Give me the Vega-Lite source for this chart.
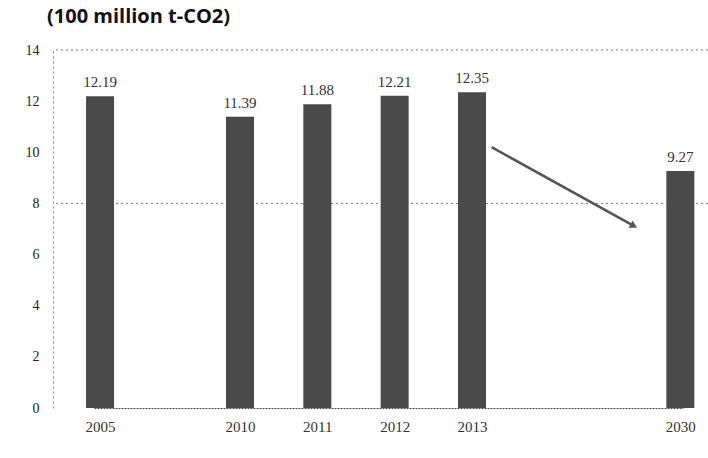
{
  "$schema": "https://vega.github.io/schema/vega-lite/v6.json",
  "width": 655,
  "height": 358,
  "autosize": {"type": "none"},
  "padding": {"left": 53, "top": 50, "right": 0, "bottom": 50},
  "background": "white",
  "title": {
    "text": "(100 million t-CO2)",
    "anchor": "start",
    "frame": "group",
    "align": "left",
    "dx": -6,
    "offset": 16,
    "font": "Open Sans",
    "fontSize": 20,
    "fontWeight": "bold",
    "color": "#111"
  },
  "config": {"view": {"stroke": null}},
  "datasets": {
    "bars": [
      {"year": 2005, "value": 12.19, "label": "12.19"},
      {"year": 2010, "value": 11.39, "label": "11.39"},
      {"year": 2011, "value": 11.88, "label": "11.88"},
      {"year": 2012, "value": 12.21, "label": "12.21"},
      {"year": 2013, "value": 12.35, "label": "12.35"},
      {"year": 2030, "value": 9.27, "label": "9.27"}
    ],
    "grid": [{"y": 8}, {"y": 14}],
    "arrow": [
      {"x": 2014.6, "y": 10.2, "x2": 2026.2, "y2": 7.12}
    ]
  },
  "layer": [
    {
      "data": {"name": "grid"},
      "mark": {"type": "rule", "color": "#777", "strokeDash": [2, 3], "strokeWidth": 1},
      "encoding": {
        "y": {"field": "y", "type": "quantitative", "scale": {"domain": [0, 14]}}
      }
    },
    {
      "data": {"name": "bars"},
      "mark": {"type": "bar", "orient": "vertical", "size": 28, "color": "#4a4a4a"},
      "encoding": {
        "x": {
          "field": "year", "type": "quantitative",
          "scale": {"domain": [2005, 2010, 2013, 2030], "range": [41, 187, 419, 630], "zero": false, "nice": false},
          "axis": {
            "values": [2005, 2010, 2011, 2012, 2013, 2030],
            "format": "d",
            "title": null,
            "grid": false,
            "ticks": false,
            "domainColor": "#444",
            "domainDash": [2, 1],
            "labelFont": "Liberation Serif",
            "labelFontSize": 15,
            "labelColor": "#333",
            "labelPadding": 11
          }
        },
        "y": {
          "field": "value", "type": "quantitative", "stack": null,
          "scale": {"domain": [0, 14], "nice": false},
          "axis": {
            "values": [0, 2, 4, 6, 8, 10, 12, 14],
            "title": null,
            "grid": false,
            "ticks": false,
            "domainColor": "#888",
            "domainDash": [2, 3],
            "labelFont": "Liberation Serif",
            "labelFontSize": 14,
            "labelColor": "#222",
            "labelPadding": 14
          }
        }
      }
    },
    {
      "data": {"name": "bars"},
      "mark": {"type": "text", "baseline": "bottom", "dy": -6, "font": "Liberation Serif", "fontSize": 15, "color": "#333"},
      "encoding": {
        "x": {"field": "year", "type": "quantitative"},
        "y": {"field": "value", "type": "quantitative"},
        "text": {"field": "label"}
      }
    },
    {
      "data": {"name": "arrow"},
      "mark": {"type": "rule", "color": "#555", "strokeWidth": 2.5},
      "encoding": {
        "x": {"field": "x", "type": "quantitative"},
        "y": {"field": "y", "type": "quantitative"},
        "x2": {"field": "x2"},
        "y2": {"field": "y2"}
      }
    },
    {
      "data": {"name": "arrow"},
      "mark": {"type": "point", "shape": "triangle-right", "filled": true, "color": "#555", "size": 70, "angle": 29, "opacity": 1},
      "encoding": {
        "x": {"field": "x2", "type": "quantitative"},
        "y": {"field": "y2", "type": "quantitative"}
      }
    }
  ]
}
